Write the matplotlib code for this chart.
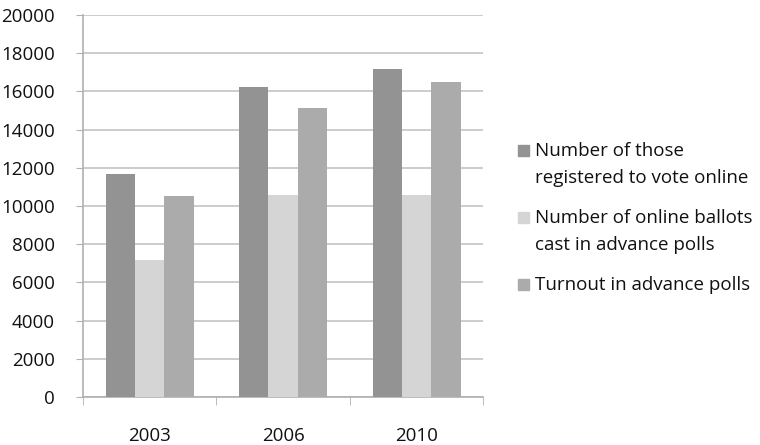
import matplotlib
matplotlib.use("Agg")
from matplotlib import pyplot as plt
from matplotlib.patches import Rectangle
import numpy as np

plt.rcParams['font.family'] = ['Open Sans', 'DejaVu Sans']

years = ["2003", "2006", "2010"]
registered = [11700, 16250, 17200]
ballots = [7150, 10600, 10600]
turnout = [10550, 15150, 16500]
series_labels = ["Number of those\nregistered to vote online",
                 "Number of online ballots\ncast in advance polls",
                 "Turnout in advance polls"]
series_colors = ["#939393", "#d5d5d5", "#ababab"]
y_ticks = list(range(0, 20001, 2000))

W, H = 760, 445
fig = plt.figure(figsize=(W / 100, H / 100), dpi=100)
ax = fig.add_axes([0.109, 0.108, 0.527, 0.858])

x = np.arange(len(years))
w = 0.22
for i, (vals, col) in enumerate(zip([registered, ballots, turnout], series_colors)):
    ax.bar(x + (i - 1) * w, vals, width=w, color=col, zorder=3)

ax.set_xlim(-0.5, 2.5)
ax.set_ylim(0, 20000)
ax.set_yticks(y_ticks)
ax.set_yticklabels([str(t) for t in y_ticks], fontsize=13.5, color="#111111")
ax.set_xticks(x)
ax.set_xticklabels(years, fontsize=13.5, color="#111111")
# category boundary ticks
ax.set_xticks([-0.5, 0.5, 1.5, 2.5], minor=True)
ax.tick_params(axis='x', which='major', length=0, pad=22)
ax.tick_params(axis='x', which='minor', length=6, color="#b0b0b0")
ax.tick_params(axis='y', length=5, color="#b0b0b0", pad=15)

ax.grid(axis='y', color="#c4c4c4", linewidth=1.2, zorder=0)
for s in ["top", "right"]:
    ax.spines[s].set_visible(False)
ax.spines["left"].set_color("#b0b0b0")
ax.spines["bottom"].set_color("#b0b0b0")
ax.spines["left"].set_linewidth(1.2)
ax.spines["bottom"].set_linewidth(1.2)

# legend: square marker next to the first line of each entry
line_gap = 27
entry_tops = [151, 218, 285]   # pixel y of first line of each entry
for lab, col, y0 in zip(series_labels, series_colors, entry_tops):
    fig.patches.append(Rectangle(((518) / W, 1 - (y0 + 5) / H), 11 / W, 11 / H,
                                 transform=fig.transFigure, color=col))
    for k, line in enumerate(lab.split("\n")):
        fig.text(535 / W, 1 - (y0 + k * line_gap) / H, line, fontsize=13.5,
                 color="#111111", va="center", ha="left")

fig.savefig("out.png", dpi=100)
